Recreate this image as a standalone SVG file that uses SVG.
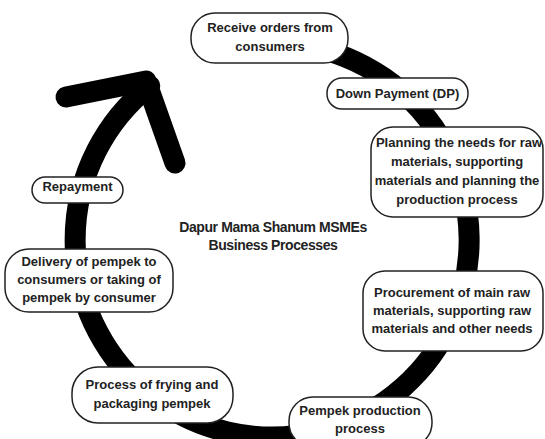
<svg xmlns="http://www.w3.org/2000/svg" width="545" height="439" viewBox="0 0 545 439">
<style>
.box{fill:#fff;stroke:#222;stroke-width:1.5}
.t{font-family:"Liberation Sans",Arial,sans-serif;font-weight:bold;font-size:13px;fill:#222;text-anchor:middle}
.title{font-family:"Liberation Sans",Arial,sans-serif;font-weight:bold;font-size:14px;letter-spacing:-0.4px;fill:#222;text-anchor:middle}
.band{fill:none;stroke:#000;stroke-width:21;stroke-linecap:round;stroke-linejoin:round}
</style>
<rect width="545" height="439" fill="#fff"/>
<g id="connectors">
<path class="band" d="M 306.2 46 A 197 197 0 1 1 149.7 85.7"/>
<path class="band" d="M 66 97 L 146 81 L 175 163"/>
</g>
<g id="title">
<text class="title" x="273" y="232">Dapur Mama Shanum MSMEs</text>
<text class="title" x="273" y="250">Business Processes</text>
</g>
<g id="n1">
<rect class="box" x="191" y="13" width="157" height="50" rx="24"/>
<text class="t" x="270" y="32">Receive orders from</text>
<text class="t" x="270" y="51">consumers</text>
</g>
<g id="n2">
<rect class="box" x="327" y="78" width="141" height="31" rx="15"/>
<text class="t" x="397.5" y="98">Down Payment (DP)</text>
</g>
<g id="n3">
<rect class="box" x="371" y="127" width="172" height="90" rx="22"/>
<text class="t" x="459" y="147">Planning the needs for raw</text>
<text class="t" x="457" y="166">materials, supporting</text>
<text class="t" x="457" y="185">materials and planning the</text>
<text class="t" x="457" y="204">production process</text>
</g>
<g id="n4">
<rect class="box" x="363" y="271" width="180" height="80" rx="22"/>
<text class="t" x="452" y="297">Procurement of main raw</text>
<text class="t" x="452" y="315">materials, supporting raw</text>
<text class="t" x="452" y="333">materials and other needs</text>
</g>
<g id="n5">
<rect class="box" x="289" y="397" width="143" height="50" rx="24"/>
<text class="t" x="360" y="415">Pempek production</text>
<text class="t" x="360" y="433">process</text>
</g>
<g id="n6">
<rect class="box" x="72" y="367" width="161" height="56" rx="26"/>
<text class="t" x="152" y="389">Process of frying and</text>
<text class="t" x="152" y="408">packaging pempek</text>
</g>
<g id="n7">
<rect class="box" x="5" y="249" width="168" height="63" rx="24"/>
<text class="t" x="89" y="266">Delivery of pempek to</text>
<text class="t" x="89" y="284">consumers or taking of</text>
<text class="t" x="89" y="302">pempek by consumer</text>
</g>
<g id="n8">
<rect class="box" x="32" y="177" width="91" height="26" rx="13"/>
<text class="t" x="77.5" y="191">Repayment</text>
</g>
</svg>
